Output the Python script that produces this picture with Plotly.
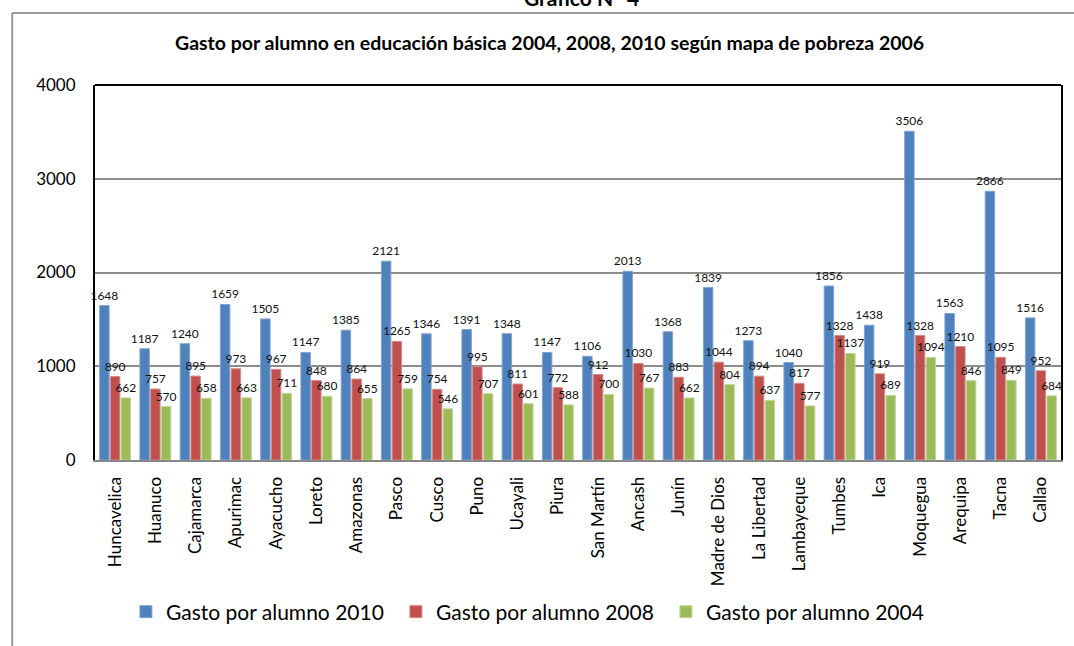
import plotly.graph_objects as go

regions = ["Huncavelica", "Huanuco", "Cajamarca", "Apurimac", "Ayacucho", "Loreto",
           "Amazonas", "Pasco", "Cusco", "Puno", "Ucayali", "Piura", "San Martín",
           "Ancash", "Junín", "Madre de Dios", "La Libertad", "Lambayeque", "Tumbes",
           "Ica", "Moquegua", "Arequipa", "Tacna", "Callao"]
g2010 = [1648, 1187, 1240, 1659, 1505, 1147, 1385, 2121, 1346, 1391, 1348, 1147, 1106,
         2013, 1368, 1839, 1273, 1040, 1856, 1438, 3506, 1563, 2866, 1516]
g2008 = [890, 757, 895, 973, 967, 848, 864, 1265, 754, 995, 811, 772, 912,
         1030, 883, 1044, 894, 817, 1328, 919, 1328, 1210, 1095, 952]
g2004 = [662, 570, 658, 663, 711, 680, 655, 759, 546, 707, 601, 588, 700,
         767, 662, 804, 637, 577, 1137, 689, 1094, 846, 849, 684]

series = [("Gasto por alumno 2010", g2010, "#4F81BD", "#7FA3D4"),
          ("Gasto por alumno 2008", g2008, "#C0504D", "#D88A88"),
          ("Gasto por alumno 2004", g2004, "#9BBB59", "#C0D69A")]

fig = go.Figure()
for name, vals, col, edge in series:
    fig.add_trace(go.Bar(
        x=regions, y=vals, name=name,
        marker=dict(color=col, line=dict(color=edge, width=1)),
        text=[str(v) for v in vals], textposition="outside",
        constraintext="none", cliponaxis=False,
        textfont=dict(family="Lato", size=12, color="#111"),
    ))

W, H = 1074, 646
L, R, T, B = 95, 11, 85, 186
pw, ph = W - L - R, H - T - B
def px(x): return (x - L) / pw
def py(y): return (H - B - y) / ph

fig.update_layout(
    width=W, height=H,
    margin=dict(l=L, r=R, t=T, b=B),
    paper_bgcolor="white", plot_bgcolor="white",
    barmode="group", bargap=0.2, bargroupgap=0.12,
    font=dict(family="Lato", color="#000"),
    showlegend=True,
    legend=dict(orientation="h", x=px(126), xanchor="left", y=py(612), yanchor="middle",
                font=dict(family="Lato", size=21, color="#000"),
                bgcolor="rgba(0,0,0,0)",
                entrywidth=225, entrywidthmode="pixels",
                itemwidth=30, traceorder="normal"),
    xaxis=dict(tickangle=-90, tickfont=dict(family="Lato", size=17, color="#000"),
               showline=True, linecolor="#888", linewidth=2,
               ticks="outside", ticklen=8, tickcolor="rgba(0,0,0,0)",
               showgrid=False),
    yaxis=dict(range=[0, 4000], dtick=1000, tickfont=dict(family="Lato", size=17, color="#000"),
               showgrid=True, gridcolor="#8c8c8c", gridwidth=2,
               showline=True, linecolor="#000", linewidth=2, mirror=True,
               ticks="outside", ticklen=14, tickcolor="rgba(0,0,0,0)", zeroline=False),
    annotations=[
        dict(text="<b>Gasto por alumno en educación básica 2004, 2008, 2010 según mapa de pobreza 2006</b>",
             xref="paper", yref="paper", x=px(550), y=py(43), xanchor="center", yanchor="middle",
             showarrow=False, font=dict(family="Lato", size=19.5, color="#000")),
        dict(text="<b>Grafico N° 4</b>",
             xref="paper", yref="paper", x=px(583), y=py(-3), xanchor="center", yanchor="middle",
             showarrow=False, font=dict(family="Lato", size=21, color="#000")),
    ],
    shapes=[
        dict(type="line", xref="paper", yref="paper", x0=0, x1=1, y0=1, y1=1,
             line=dict(color="#000", width=2)),
        dict(type="line", xref="paper", yref="paper", x0=px(12), x1=px(12), y0=py(13), y1=py(H + 5),
             line=dict(color="#999", width=2)),
        dict(type="line", xref="paper", yref="paper", x0=px(12), x1=px(W + 5), y0=py(13), y1=py(13),
             line=dict(color="#999", width=2)),
    ],
)

fig.write_html("out.html", config={"displayModeBar": False},
               post_script="document.body.style.margin='0';document.body.style.overflow='hidden';")
